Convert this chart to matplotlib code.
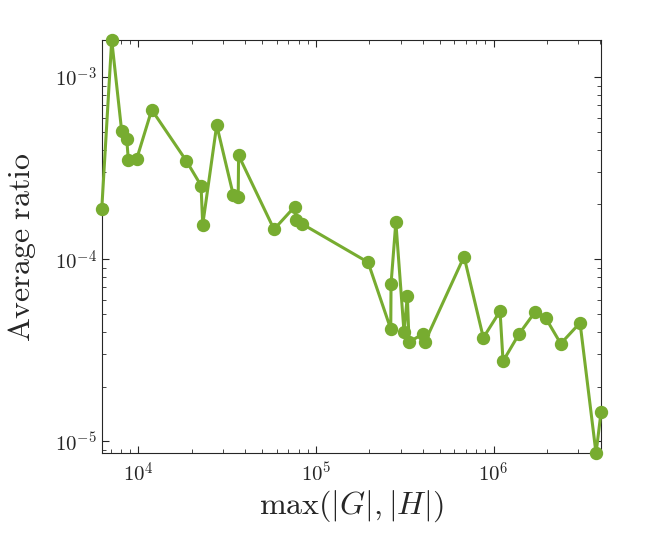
import numpy as np
import matplotlib
matplotlib.use("Agg")
import matplotlib.pyplot as plt
from matplotlib.ticker import FuncFormatter, NullFormatter

plt.rcParams['mathtext.fontset'] = 'cm'

# data
max_size = [6223, 7083, 8063, 8603, 8785, 9795, 11900, 18640, 22550, 23050,
            27630, 34270, 36500, 36700, 58080, 75770, 77270, 82980, 196600, 263800,
            264800, 281800, 313400, 327100, 334400, 399900, 411500, 682300, 876000, 1088000,
            1131000, 1387000, 1706000, 1968000, 2390000, 3069000, 3776000, 4030000]
avg_ratio = [1.878e-4, 1.600e-3, 5.04e-4, 4.58e-4, 3.53e-4, 3.56e-4, 6.62e-4, 3.47e-4, 2.54e-4, 1.55e-4,
             5.45e-4, 2.25e-4, 2.20e-4, 3.72e-4, 1.46e-4, 1.94e-4, 1.64e-4, 1.57e-4, 9.63e-5, 4.14e-5,
             7.32e-5, 1.60e-4, 3.97e-5, 6.30e-5, 3.51e-5, 3.89e-5, 3.53e-5, 1.035e-4, 3.71e-5, 5.19e-5,
             2.755e-5, 3.87e-5, 5.11e-5, 4.75e-5, 3.44e-5, 4.48e-5, 8.6e-6, 1.449e-5]

green = '#77AC30'

fig = plt.figure(figsize=(6.64, 5.34), dpi=100)
ax = fig.add_axes([0.1532, 0.1511, 0.752, 0.774])

ax.plot(max_size, avg_ratio, '-o', color=green, linewidth=2.2, markersize=8.6, clip_on=False, zorder=3)

ax.set_xscale('log')
ax.set_yscale('log')
ax.set_xlim(min(max_size), max(max_size))
ax.set_ylim(min(avg_ratio), max(avg_ratio))

pow10 = FuncFormatter(lambda v, pos: r'$10^{%d}$' % int(round(np.log10(v))))
ax.xaxis.set_major_formatter(pow10)
ax.yaxis.set_major_formatter(pow10)
ax.xaxis.set_minor_formatter(NullFormatter())
ax.yaxis.set_minor_formatter(NullFormatter())

ax.tick_params(which='both', direction='in', top=True, right=True, colors='#262626', labelsize=15)
ax.tick_params(which='major', length=5, width=0.8)
ax.tick_params(which='minor', length=3, width=0.6)
ax.tick_params(axis='x', pad=6)
for s in ax.spines.values():
    s.set_color('#262626')
    s.set_linewidth(0.8)

ax.set_xlabel(r'$\max(|G|,|H|)$', fontsize=23, color='#262626', labelpad=2)
ax.set_ylabel(r'$\mathrm{Average\ ratio}$', fontsize=23, color='#262626', labelpad=12)

fig.savefig('out.png', dpi=100)
